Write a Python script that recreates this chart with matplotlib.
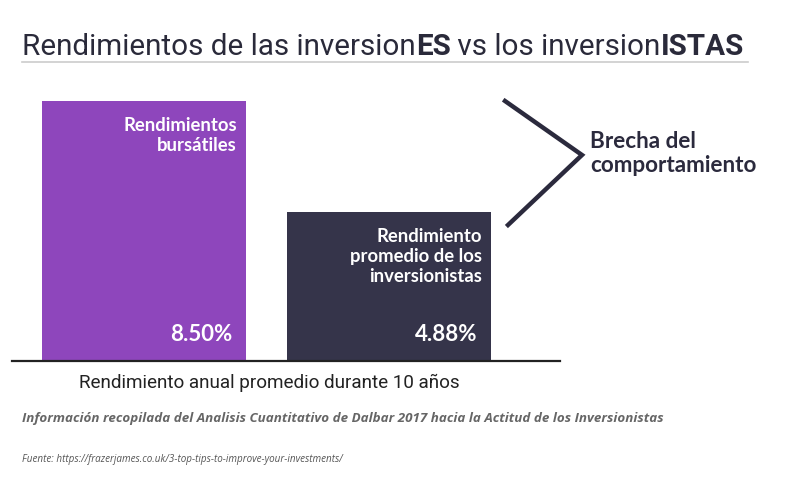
import matplotlib.pyplot as plt
from matplotlib.lines import Line2D

# data
categories = ["Rendimientos\nbursátiles", "Rendimiento\npromedio de los\ninversionistas"]
values = [8.50, 4.88]
value_labels = ["8.50%", "4.88%"]
bar_colors = ["#8e46bc", "#35344a"]

W, H = 800, 489
fig = plt.figure(figsize=(8, 4.89), dpi=100)
fig.patch.set_facecolor("white")

def fx(px):
    return px / W

def fy(py):
    return 1 - py / H

# axes: baseline from x=12 to 560 px, y=362 px
ax_top = 90
ax = fig.add_axes([fx(12), fy(362), fx(560 - 12), (362 - ax_top) / H])
ax.set_facecolor("none")
xpos = [0, 1]
ax.bar(xpos, values, width=0.83, color=bar_colors)
ax.set_xlim(-132 / 245, (560 - 144) / 245)
ax.set_ylim(0, 8.5 * (362 - ax_top) / 260)
ax.set_xticks([])
ax.set_yticks([])
for s in ["top", "right", "left"]:
    ax.spines[s].set_visible(False)
ax.spines["bottom"].set_color("#222222")
ax.spines["bottom"].set_linewidth(1.6)

for x, v, cat, lab in zip(xpos, values, categories, value_labels):
    right = x + 0.83 / 2 - 0.035
    ax.annotate(cat, (right, v), xytext=(0, -11), textcoords="offset points",
                ha="right", va="top", color="white", fontsize=13.3,
                fontweight="bold", family="Lato", linespacing=1.2)
    ax.annotate(lab, (right - 0.02, 0), xytext=(0, 12), textcoords="offset points",
                ha="right", va="bottom", color="white", fontsize=16,
                fontweight="bold", family="Lato")

# title
title_parts = [("Rendimientos de las inversion", "normal"), ("ES", "bold"),
               (" vs los inversion", "normal"), ("ISTAS", "bold")]
renderer = fig.canvas.get_renderer()
xcur = fx(22)
for txt, wt in title_parts:
    t = fig.text(xcur, fy(47), txt, fontsize=21.3, family="Roboto", fontweight=wt,
                 color="#2a2a3a", va="center", ha="left")
    bb = t.get_window_extent(renderer=renderer)
    xcur += bb.width / W
fig.add_artist(Line2D([fx(22), fx(748)], [fy(63), fy(63)], color="#cccccc", lw=1.2))

# bracket
fig.add_artist(Line2D([fx(505), fx(582), fx(508)], [fy(102), fy(156), fy(226)],
                      color="#2b2a3d", lw=3.2, solid_joinstyle="miter"))
fig.text(fx(590), fy(131), "Brecha del\ncomportamiento", fontsize=16.2,
         fontweight="bold", family="Lato", color="#2b2a3d", va="top", ha="left",
         linespacing=1.2)

# axis caption
fig.text(fx(269), fy(383), "Rendimiento anual promedio durante 10 años",
         fontsize=13.6, family="Roboto", color="#222222", ha="center", va="center")

fig.text(fx(22), fy(419),
         "Información recopilada del Analisis Cuantitativo de Dalbar 2017 hacia la Actitud de los Inversionistas",
         fontsize=9.6, family="Open Sans", fontstyle="italic", fontweight="bold",
         color="#666666", ha="left", va="center")
fig.text(fx(22), fy(460), "Fuente: https://frazerjames.co.uk/3-top-tips-to-improve-your-investments/",
         fontsize=7.1, family="Open Sans", fontstyle="italic", color="#555555",
         ha="left", va="center")

fig.savefig("out.png", dpi=100)
